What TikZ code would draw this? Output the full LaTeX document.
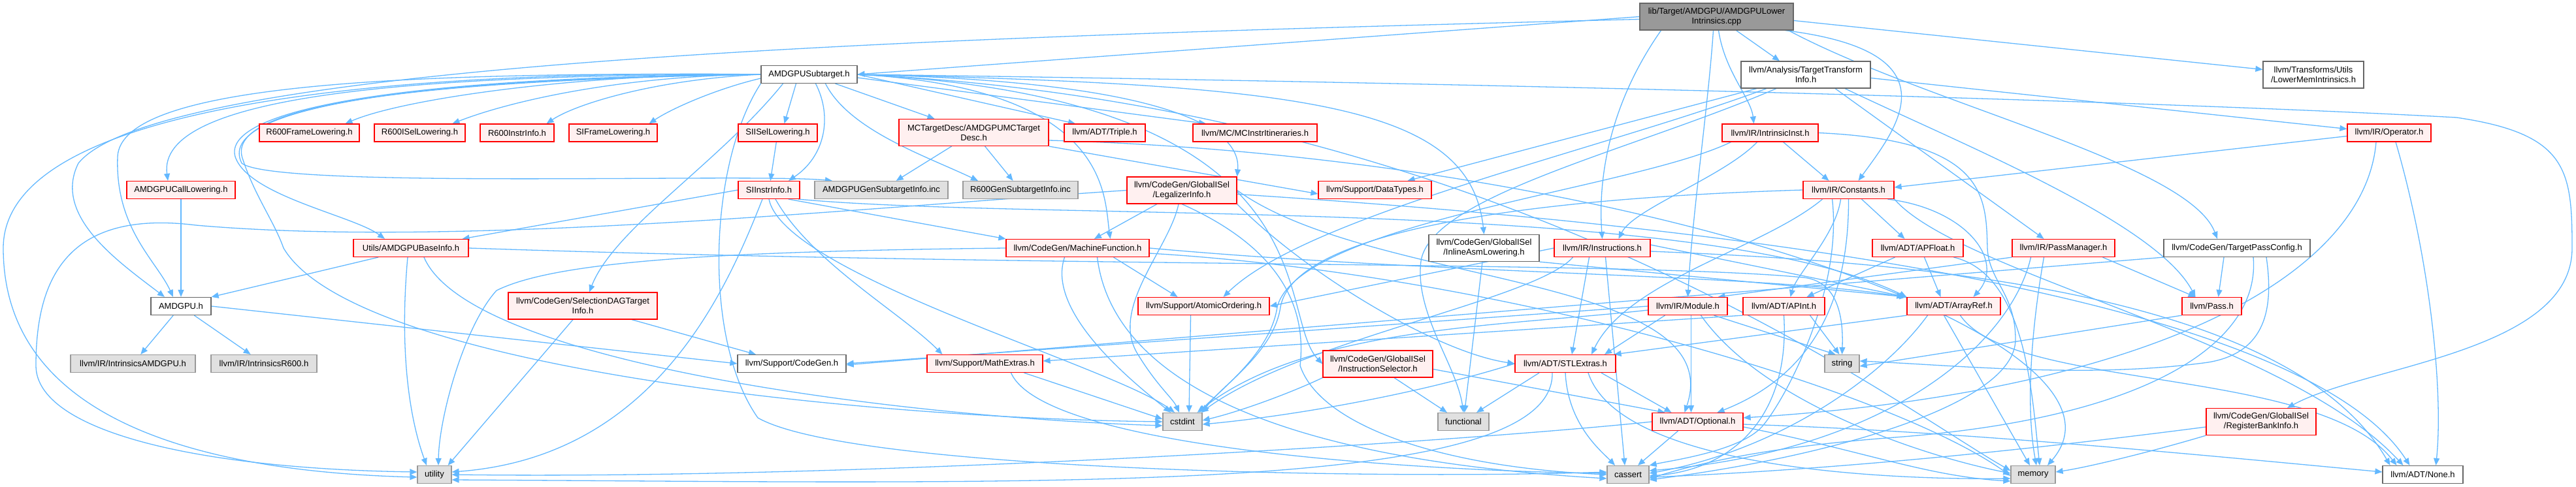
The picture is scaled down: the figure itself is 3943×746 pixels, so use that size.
\documentclass[tikz,border=0pt]{standalone}
\usepackage{fontspec}
\setmainfont{Liberation Sans}
\usetikzlibrary{arrows.meta,backgrounds}
\definecolor{edgec}{HTML}{63B8FF}
\definecolor{redb}{HTML}{FF0000}
\definecolor{redf}{HTML}{FFF0F0}
\definecolor{grayf}{HTML}{E0E0E0}
\definecolor{grayb}{HTML}{999999}
\definecolor{darkb}{HTML}{666666}
\definecolor{topf}{HTML}{999999}
\begin{document}
\begin{tikzpicture}[x=1pt,y=-1pt,
  nbox/.style={rectangle, font=\fontsize{13}{15}\selectfont, align=center, inner xsep=2pt, inner ysep=0pt, minimum height=27pt, line width=1.2pt},
  rnode/.style={nbox, draw=redb, fill=redf},
  wnode/.style={nbox, draw=darkb, fill=white},
  gnode/.style={nbox, draw=grayb, fill=grayf},
  tnode/.style={nbox, draw=darkb, fill=topf},
  two/.style={minimum height=41pt},
  edg/.style={draw=edgec, line width=1.3pt, -{Triangle[length=11pt,width=9pt]}},
]
\useasboundingbox (0,0) rectangle (3943,746);
% ---------------- nodes ----------------
\node[tnode,two,minimum width=235pt] (top) at (2627.5,25.5) {lib/Target/AMDGPU/AMDGPULower\\Intrinsics.cpp};
\node[wnode,minimum width=147pt] (sub) at (1238.5,114) {AMDGPUSubtarget.h};
\node[wnode,two,minimum width=198pt] (tti) at (2764,114.5) {llvm/Analysis/TargetTransform\\Info.h};
\node[wnode,two,minimum width=154pt] (lmi) at (3541,114.5) {llvm/Transforms/Utils\\/LowerMemIntrinsics.h};
\node[rnode,minimum width=153pt] (r6fl) at (473.5,203.5) {R600FrameLowering.h};
\node[rnode,minimum width=139pt] (r6isel) at (642.5,203.5) {R600ISelLowering.h};
\node[rnode,minimum width=113pt] (r6ii) at (791.5,203.5) {R600InstrInfo.h};
\node[rnode,minimum width=135pt] (sifl) at (938.5,203.5) {SIFrameLowering.h};
\node[rnode,minimum width=121pt] (siisel) at (1190.5,203.5) {SIISelLowering.h};
\node[rnode,two,minimum width=229pt] (mctd) at (1490.5,203) {MCTargetDesc/AMDGPUMCTarget\\Desc.h};
\node[rnode,minimum width=124pt] (triple) at (1691,203.5) {llvm/ADT/Triple.h};
\node[rnode,minimum width=190pt] (mcii) at (1921,203.5) {llvm/MC/MCInstrItineraries.h};
\node[rnode,minimum width=147pt] (iinst) at (2709.5,203.5) {llvm/IR/IntrinsicInst.h};
\node[rnode,minimum width=128pt] (oper) at (3657,203.5) {llvm/IR/Operator.h};
\node[rnode,minimum width=166pt] (cgl) at (277,291) {AMDGPUCallLowering.h};
\node[rnode,minimum width=94pt] (siii) at (1177,291) {SIInstrInfo.h};
\node[gnode,minimum width=204pt] (agsi) at (1349,291) {AMDGPUGenSubtargetInfo.inc};
\node[gnode,minimum width=176pt] (r6gsi) at (1562,291) {R600GenSubtargetInfo.inc};
\node[rnode,two,minimum width=168pt] (legal) at (1809,291.5) {llvm/CodeGen/GlobalISel\\/LegalizerInfo.h};
\node[rnode,minimum width=173pt] (dtypes) at (2104.5,291) {llvm/Support/DataTypes.h};
\node[rnode,minimum width=139pt] (const) at (2829.5,291) {llvm/IR/Constants.h};
\node[rnode,minimum width=176pt] (base) at (629,380) {Utils/AMDGPUBaseInfo.h};
\node[rnode,minimum width=219pt] (mf) at (1649.5,380) {llvm/CodeGen/MachineFunction.h};
\node[wnode,two,minimum width=169pt] (ial) at (2271.5,380) {llvm/CodeGen/GlobalISel\\/InlineAsmLowering.h};
\node[rnode,minimum width=147pt] (instr) at (2452.5,380) {llvm/IR/Instructions.h};
\node[rnode,minimum width=139pt] (apf) at (2935.5,380) {llvm/ADT/APFloat.h};
\node[rnode,minimum width=157pt] (pm) at (3158.5,380) {llvm/IR/PassManager.h};
\node[wnode,minimum width=224pt] (tpc) at (3424,380) {llvm/CodeGen/TargetPassConfig.h};
\node[wnode,minimum width=92pt] (amdgpu) at (277,469) {AMDGPU.h};
\node[rnode,two,minimum width=228pt] (sdag) at (892,468.5) {llvm/CodeGen/SelectionDAGTarget\\Info.h};
\node[rnode,minimum width=201pt] (atomic) at (1842.5,469) {llvm/Support/AtomicOrdering.h};
\node[rnode,minimum width=121pt] (module) at (2583.5,469) {llvm/IR/Module.h};
\node[rnode,minimum width=125pt] (apint) at (2730.5,469) {llvm/ADT/APInt.h};
\node[rnode,minimum width=143pt] (aref) at (2990.5,469) {llvm/ADT/ArrayRef.h};
\node[rnode,minimum width=91pt] (pass) at (3385.5,469) {llvm/Pass.h};
\node[gnode,minimum width=191pt] (iamd) at (203.5,557) {llvm/IR/IntrinsicsAMDGPU.h};
\node[gnode,minimum width=162pt] (ir600) at (404,557) {llvm/IR/IntrinsicsR600.h};
\node[wnode,minimum width=166pt] (cg) at (1212,557) {llvm/Support/CodeGen.h};
\node[rnode,minimum width=177pt] (math) at (1507.5,557) {llvm/Support/MathExtras.h};
\node[rnode,two,minimum width=168pt] (isel) at (2109,557.5) {llvm/CodeGen/GlobalISel\\/InstructionSelector.h};
\node[rnode,minimum width=154pt] (stl) at (2396,557) {llvm/ADT/STLExtras.h};
\node[gnode,minimum width=53pt] (string) at (2819.5,557) {string};
\node[gnode,minimum width=60pt] (cstdint) at (1810,646) {cstdint};
\node[gnode,minimum width=78pt] (functional) at (2240,646) {functional};
\node[rnode,minimum width=139pt] (opt) at (2598.5,646) {llvm/ADT/Optional.h};
\node[rnode,two,minimum width=168pt] (rbi) at (3461,646) {llvm/CodeGen/GlobalISel\\/RegisterBankInfo.h};
\node[gnode,minimum width=52pt] (utility) at (665,727) {utility};
\node[gnode,minimum width=64pt] (cassert) at (2492,727) {cassert};
\node[gnode,minimum width=68pt] (memory) at (3112,727) {memory};
\node[wnode,minimum width=123pt] (none) at (3708.5,727) {llvm/ADT/None.h};
% ---------------- edges ----------------
\begin{pgfonlayer}{background}
% top
\draw[edg] (top.west) -- (sub.east);
\draw[edg] ([yshift=-4pt]top.west) .. controls (1500,55) and (250,90) .. (120,250) .. controls (80,330) and (180,400) .. ([xshift=-25pt]amdgpu.north);
\draw[edg] ([xshift=30pt]top.south) -- ([xshift=-40pt]tti.north);
\draw[edg] ([yshift=-6pt]top.east) -- ([yshift=8pt]lmi.west);
\draw[edg] ([xshift=3pt]top.south) .. controls (2640,110) and (2680,150) .. ([xshift=-25pt]iinst.north);
\draw[edg] ([xshift=-5pt]top.south) .. controls (2615,160) and (2590,330) .. (module.north);
\draw[edg] ([xshift=-85pt]top.south) .. controls (2470,150) and (2445,260) .. (instr.north);
\draw[edg] ([xshift=105pt]top.south) .. controls (3000,80) and (2900,200) .. ([xshift=15pt]const.north);
\draw[edg] ([xshift=110pt]top.south) .. controls (2950,160) and (3350,250) .. ([xshift=-30pt]tpc.north);
% sub
\draw[edg] (sub.west) .. controls (900,112) and (620,150) .. ([xshift=55pt]r6fl.north);
\draw[edg] (sub.west) .. controls (950,116) and (780,155) .. ([xshift=50pt]r6isel.north);
\draw[edg] (sub.west) .. controls (1000,122) and (880,160) .. ([xshift=45pt]r6ii.north);
\draw[edg] ([yshift=-6pt]sub.west) .. controls (1100,135) and (1030,165) .. ([xshift=55pt]sifl.north);
\draw[edg] ([xshift=-20pt]sub.south) -- ([xshift=10pt]siisel.north);
\draw[edg] ([xshift=40pt]sub.south) -- ([xshift=-60pt]mctd.north);
\draw[edg] (sub.east) -- ([xshift=-45pt]triple.north);
\draw[edg] ([yshift=-5pt]sub.east) -- ([xshift=-75pt]mcii.north);
\draw[edg] (sub.west) .. controls (700,108) and (5,140) .. (5,380) .. controls (5,640) and (300,722) .. ([yshift=-4pt]utility.west);
\draw[edg] (sub.west) .. controls (600,110) and (185,130) .. (180,240) .. controls (176,350) and (240,400) .. ([xshift=-12pt]amdgpu.north);
\draw[edg] (sub.west) .. controls (600,114) and (240,150) .. ([xshift=-20pt]cgl.north);
\draw[edg] (sub.west) .. controls (600,118) and (340,170) .. (360,240) .. controls (380,300) and (540,330) .. ([xshift=-40pt]base.north);
\draw[edg] (sub.west) .. controls (600,120) and (330,170) .. (370,250) .. controls (420,290) and (1150,265) .. ([xshift=-75pt]agsi.north);
\draw[edg] (sub.west) .. controls (600,124) and (340,165) .. (372,245) .. controls (390,300) and (420,340) .. (434,380) .. controls (540,560) and (1300,640) .. (cstdint.west);
\draw[edg] ([xshift=10pt]sub.south) .. controls (1275,180) and (1262,240) .. ([xshift=30pt]siii.north);
\draw[edg] ([xshift=25pt]sub.south) .. controls (1300,200) and (1420,240) .. ([xshift=-65pt]r6gsi.north);
\draw[edg] ([xshift=-40pt]sub.south) .. controls (1100,250) and (940,350) .. ([xshift=10pt]sdag.north);
\draw[edg] (sub.south west) .. controls (1085,250) and (1075,520) .. (1160,640) .. controls (1300,720) and (2100,735) .. ([yshift=4pt]cassert.west);
\draw[edg] (sub.east) .. controls (1800,125) and (1900,200) .. (legal.north east);
\draw[edg] (sub.east) .. controls (1700,135) and (1690,300) .. ([xshift=50pt]mf.north);
\draw[edg] (sub.east) .. controls (2000,130) and (2250,160) .. (ial.north);
\draw[edg] (sub.east) .. controls (2050,150) and (1950,480) .. (isel.west);
\draw[edg] (sub.east) .. controls (2500,130) and (3400,160) .. (3760,180) .. controls (3930,205) and (3937,260) .. (3937,380) .. controls (3937,540) and (3620,560) .. ([xshift=40pt]rbi.north);
\draw[edg] (sub.east) .. controls (2300,160) and (2900,620) .. ([yshift=6pt]memory.west);
% amdgpu, cgl, siisel
\draw[edg] (amdgpu) -- (iamd);
\draw[edg] (amdgpu) -- (ir600);
\draw[edg] (amdgpu.east) -- (cg.west);
\draw[edg] (cgl) -- (amdgpu);
\draw[edg] (siisel) -- (siii);
% siii
\draw[edg] (siii.west) -- ([xshift=-10pt]base.north east);
\draw[edg] ([xshift=-10pt]siii.south) .. controls (1110,450) and (1000,700) .. ([yshift=4pt]utility.east);
\draw[edg] ([xshift=30pt]siii.south) -- (mf.north west);
\draw[edg] ([xshift=10pt]siii.south) .. controls (1240,400) and (1380,480) .. ([xshift=-65pt]math.north);
\draw[edg] ([xshift=45pt]siii.south) .. controls (1600,340) and (2600,300) .. (aref.north west);
\draw[edg] (siii.south) .. controls (1200,420) and (1700,560) .. ([xshift=-12pt]cstdint.north);
% base
\draw[edg] ([xshift=-50pt]base.south) -- (amdgpu.north east);
\draw[edg] ([xshift=-5pt]base.south) .. controls (610,550) and (630,650) .. ([xshift=-12pt]utility.north);
\draw[edg] ([xshift=20pt]base.south) .. controls (720,560) and (1400,640) .. ([yshift=-6pt]cstdint.west);
\draw[edg] (base.east) .. controls (1600,410) and (2500,400) .. (2760,425) .. controls (2810,430) and (2822,480) .. (string.north);
% mctd
\draw[edg] (mctd) -- (agsi);
\draw[edg] (mctd) -- (r6gsi);
\draw[edg] (mctd.south east) -- ([yshift=-6pt]dtypes.west);
\draw[edg] ([yshift=-12pt]mctd.east) .. controls (2500,240) and (3300,520) .. ([xshift=22pt]memory.north);
% legal
\draw[edg] (legal) -- (mf);
\draw[edg] (legal.west) .. controls (1300,320) and (700,380) .. (300,345) .. controls (100,320) and (55,430) .. (55,560) .. controls (55,660) and (300,718) .. ([yshift=4pt]utility.west);
\draw[edg] ([xshift=-5pt]legal.south) .. controls (1790,380) and (1700,470) .. (1740,540) .. controls (1770,590) and (1795,610) .. ([xshift=-5pt]cstdint.north);
\draw[edg] (legal.south east) .. controls (2000,420) and (2200,540) .. (stl.west);
\draw[edg] (legal.east) .. controls (2100,440) and (2650,420) .. ([xshift=-20pt]opt.north);
\draw[edg] ([yshift=-6pt]legal.east) .. controls (2400,330) and (3500,420) .. ([xshift=-20pt]none.north);
\draw[edg] (legal.south) .. controls (1960,380) and (2000,470) .. (1990,560) .. controls (2020,650) and (2200,715) .. (cassert.west);
% ial
\draw[edg] (ial) -- (functional);
\draw[edg] (ial.south east) -- (aref.north west);
% isel
\draw[edg] ([xshift=25pt]isel.south) -- ([xshift=-25pt]functional.north);
\draw[edg] ([yshift=-8pt]isel.east) -- ([xshift=-50pt]opt.north);
\draw[edg] (isel.south west) .. controls (1980,600) and (1900,630) .. ([yshift=2pt]cstdint.east);
% rbi
\draw[edg] (rbi.south west) .. controls (3300,690) and (3200,715) .. ([yshift=4pt]memory.east);
\draw[edg] ([yshift=-8pt]rbi.west) .. controls (3100,690) and (2800,720) .. ([yshift=-4pt]cassert.east);
% mf
\draw[edg] ([xshift=55pt]mf.south) -- ([xshift=-40pt]atomic.north);
\draw[edg] ([xshift=-20pt]mf.south) .. controls (1600,480) and (1740,590) .. ([xshift=-18pt]cstdint.north);
\draw[edg] (mf.west) .. controls (1100,385) and (850,400) .. (760,445) .. controls (710,500) and (672,640) .. ([xshift=6pt]utility.north);
\draw[edg] (mf.east) .. controls (2200,420) and (2700,420) .. ([xshift=-4pt]aref.north west);
\draw[edg] ([xshift=30pt]mf.south) .. controls (1700,560) and (1900,700) .. ([yshift=-6pt]cassert.west);
\draw[edg] ([yshift=-8pt]mf.east) .. controls (2300,420) and (2900,600) .. ([yshift=-2pt]memory.west);
% sdag
\draw[edg] ([xshift=-15pt]sdag.south) -- ([xshift=-6pt]utility.north east);
\draw[edg] ([xshift=75pt]sdag.south) -- ([xshift=-55pt]cg.north);
% math
\draw[edg] ([xshift=40pt]math.south) .. controls (1600,690) and (2200,722) .. ([yshift=2pt]cassert.west);
\draw[edg] ([xshift=60pt]math.south) -- ([yshift=4pt]cstdint.west);
% const
\draw[edg] ([xshift=20pt]const.south) -- ([xshift=-20pt]apf.north);
\draw[edg] ([xshift=-12pt]const.south) .. controls (2810,360) and (2750,420) .. ([xshift=10pt]apint.north);
\draw[edg] ([xshift=60pt]const.south) .. controls (3010,320) and (3070,400) .. ([xshift=30pt]aref.north);
\draw[edg] (const.south east) .. controls (3000,420) and (3500,520) .. ([xshift=-30pt]none.north);
\draw[edg] (const.south) .. controls (2830,480) and (2760,580) .. ([xshift=30pt]opt.north);
\draw[edg] ([xshift=-40pt]const.south) .. controls (2700,380) and (2490,430) .. ([xshift=40pt]stl.north);
\draw[edg] ([xshift=-25pt]const.south) .. controls (2820,440) and (2740,600) .. (2700,650) .. controls (2670,690) and (2560,705) .. (cassert.north east);
\draw[edg] (const.west) .. controls (2300,305) and (1980,360) .. (1960,470) .. controls (1950,540) and (1870,590) .. (cstdint.north east);
% iinst
\draw[edg] ([xshift=20pt]iinst.south) -- ([xshift=-30pt]const.north);
\draw[edg] ([xshift=-20pt]iinst.south) .. controls (2640,270) and (2500,320) .. ([xshift=25pt]instr.north);
\draw[edg] ([xshift=-60pt]iinst.south) .. controls (2500,290) and (1990,340) .. (1955,470) .. controls (1945,540) and (1870,595) .. ([xshift=-5pt]cstdint.north east);
\draw[edg] (iinst.east) .. controls (3040,215) and (3040,300) .. (3042,380) .. controls (3044,430) and (3085,450) .. (3085,520) .. controls (3085,620) and (2800,700) .. ([yshift=-8pt]cassert.east);
% instr
\draw[edg] (instr.west) -- (atomic.east);
\draw[edg] ([xshift=-45pt]instr.south) .. controls (2350,460) and (1990,520) .. ([xshift=-2pt]cstdint.north east);
\draw[edg] ([xshift=-20pt]instr.south) -- ([xshift=10pt]stl.north);
\draw[edg] ([xshift=5pt]instr.south) -- ([xshift=-5pt]cassert.north);
\draw[edg] ([yshift=5pt]instr.east) -- (aref.north west);
\draw[edg] ([yshift=-5pt]instr.east) .. controls (2900,400) and (3500,440) .. ([xshift=-50pt]none.north);
% module
\draw[edg] (module.west) -- (cg.east);
\draw[edg] ([yshift=-6pt]module.west) .. controls (2300,500) and (2000,500) .. ([xshift=-8pt]cstdint.north east);
\draw[edg] ([xshift=-35pt]module.south) -- ([xshift=60pt]stl.north);
\draw[edg] ([xshift=5pt]module.south) -- ([xshift=-10pt]opt.north);
\draw[edg] ([xshift=40pt]module.south) -- ([xshift=-10pt]string.north);
\draw[edg] ([xshift=20pt]module.south) .. controls (2700,620) and (2950,700) .. ([yshift=2pt]memory.west);
% apint
\draw[edg] (apint.south west) -- ([yshift=4pt]math.east);
\draw[edg] (apint.south) .. controls (2740,640) and (2650,720) .. ([yshift=-2pt]cassert.east);
\draw[edg] ([xshift=40pt]apint.south) -- ([xshift=-4pt]string.north);
% apf
\draw[edg] ([xshift=-35pt]apf.south) -- ([xshift=35pt]apint.north);
\draw[edg] ([xshift=10pt]apf.south) -- ([xshift=-20pt]aref.north);
\draw[edg] ([xshift=55pt]apf.south) .. controls (3100,420) and (3110,600) .. ([xshift=10pt]memory.north);
% aref
\draw[edg] (aref.south west) -- ([xshift=-3pt]stl.north east);
\draw[edg] ([xshift=-40pt]aref.south) .. controls (2880,580) and (2720,690) .. ([yshift=2pt]cassert.east);
\draw[edg] ([xshift=-15pt]aref.south) -- ([xshift=-5pt]memory.north);
\draw[edg] ([xshift=10pt]aref.south) .. controls (3080,600) and (3550,560) .. ([xshift=-40pt]none.north);
% stl
\draw[edg] ([xshift=55pt]stl.south) -- ([xshift=-40pt]opt.north);
\draw[edg] ([xshift=-40pt]stl.south) -- ([xshift=20pt]functional.north);
\draw[edg] (stl.south) .. controls (2400,650) and (2450,690) .. ([xshift=-20pt]cassert.north);
\draw[edg] (stl.west) .. controls (2150,610) and (1950,640) .. ([yshift=-4pt]cstdint.east);
\draw[edg] ([xshift=-20pt]stl.south) .. controls (2380,760) and (1600,740) .. ([yshift=-8pt]utility.east);
\draw[edg] ([xshift=35pt]stl.south) .. controls (2480,720) and (2900,735) .. ([yshift=-6pt]memory.west);
% opt
\draw[edg] ([yshift=-4pt]opt.east) .. controls (3000,660) and (3400,700) .. ([yshift=4pt]none.west);
\draw[edg] ([xshift=-30pt]opt.south) -- ([xshift=15pt]cassert.north);
\draw[edg] (opt.west) .. controls (2200,680) and (1300,735) .. (utility.east);
\draw[edg] ([yshift=-8pt]opt.east) .. controls (2850,690) and (2950,730) .. ([yshift=-10pt]memory.west);
% pm
\draw[edg] (pm.south west) -- ([xshift=-15pt]module.north east);
\draw[edg] ([xshift=60pt]pm.south) -- ([xshift=-25pt]pass.north);
\draw[edg] ([xshift=-30pt]pm.south) .. controls (3110,500) and (3100,620) .. ([xshift=5pt]memory.north);
\draw[edg] ([xshift=-50pt]pm.south) .. controls (3080,520) and (2900,690) .. ([yshift=6pt]cassert.east);
% tpc
\draw[edg] ([xshift=-20pt]tpc.south) -- ([xshift=10pt]pass.north);
\draw[edg] (tpc.south west) -- ([yshift=-2pt]cg.east);
\draw[edg] ([xshift=25pt]tpc.south) .. controls (3460,520) and (3300,640) .. (2900,670) .. controls (2700,685) and (2600,710) .. ([yshift=-6pt]cassert.east);
\draw[edg] ([xshift=45pt]tpc.south) .. controls (3480,470) and (3470,540) .. (3380,555) .. controls (3200,580) and (3000,560) .. ([yshift=4pt]string.east);
% pass
\draw[edg] (pass.south west) -- ([yshift=-4pt]string.east);
% tti
\draw[edg] ([yshift=-5pt]tti.east) -- ([yshift=6pt]oper.west);
\draw[edg] ([xshift=45pt]tti.south) -- ([xshift=-30pt]pm.north);
\draw[edg] ([xshift=60pt]tti.south) .. controls (3000,220) and (3300,340) .. ([xshift=-25pt]pass.north);
\draw[edg] ([xshift=-75pt]tti.south) -- ([xshift=50pt]dtypes.north);
\draw[edg] ([xshift=-60pt]tti.south) .. controls (2450,230) and (2000,330) .. ([xshift=30pt]atomic.north);
\draw[edg] ([xshift=-45pt]tti.south) .. controls (2500,230) and (2190,300) .. (2175,400) .. controls (2165,480) and (2230,560) .. (functional.north);
% oper
\draw[edg] ([yshift=-5pt]oper.west) -- ([yshift=4pt]const.east);
\draw[edg] ([xshift=-20pt]oper.south) .. controls (3620,420) and (3300,600) .. ([yshift=6pt]opt.east);
\draw[edg] ([xshift=10pt]oper.south) .. controls (3720,400) and (3740,600) .. ([xshift=20pt]none.north);
% atomic
\draw[edg] ([xshift=-20pt]atomic.south) -- ([xshift=10pt]cstdint.north);
\end{pgfonlayer}
\end{tikzpicture}
\end{document}
